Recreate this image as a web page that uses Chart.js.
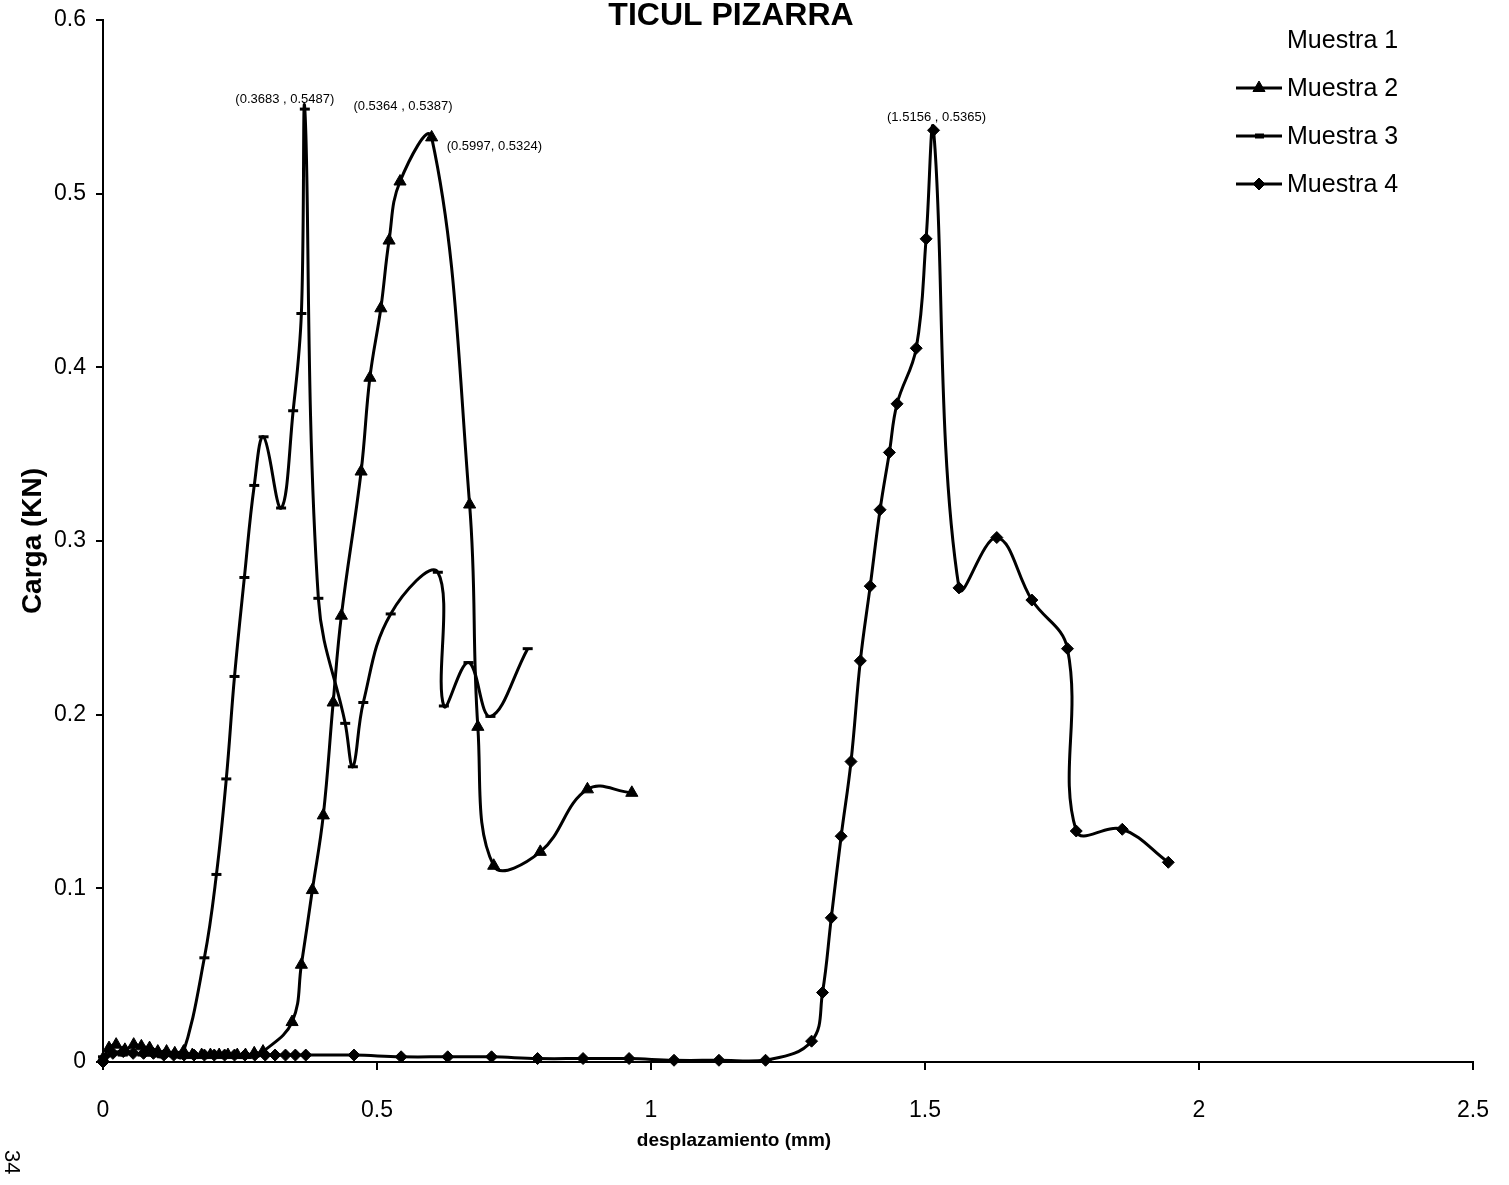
<!DOCTYPE html>
<html><head><meta charset="utf-8">
<script src="https://cdn.jsdelivr.net/npm/chart.js@4/dist/chart.umd.min.js"></script>
<style>html,body{margin:0;padding:0;background:#fff}#wrap{width:1509px;height:1185px;position:relative}canvas{display:block}</style>
</head><body><div id="wrap"><canvas id="c" width="1509" height="1185" style="width:1509px;height:1185px"></canvas></div>
<script>
// ---------- data ----------
const chartTitle = 'TICUL PIZARRA';
const xAxisTitle = 'desplazamiento (mm)';
const yAxisTitle = 'Carga (KN)';
const pageNumber = '34';
const seriesNames = ['Muestra 1', 'Muestra 2', 'Muestra 3', 'Muestra 4'];
const xTicks = [0, 0.5, 1, 1.5, 2, 2.5];
const xTickLabels = ['0', '0.5', '1', '1.5', '2', '2.5'];
const yTicks = [0, 0.1, 0.2, 0.3, 0.4, 0.5, 0.6];
const yTickLabels = ['0', '0.1', '0.2', '0.3', '0.4', '0.5', '0.6'];

const m1X = [];
const m1Y = [];

const m2X = [0, 0.011, 0.024, 0.040, 0.056, 0.070, 0.085, 0.100, 0.116, 0.131, 0.147, 0.163, 0.180, 0.196, 0.212, 0.228, 0.245, 0.260, 0.276, 0.292, 0.345, 0.362, 0.382, 0.402, 0.420, 0.435, 0.471, 0.487, 0.507, 0.522, 0.542, 0.5997, 0.669, 0.684, 0.713, 0.798, 0.884, 0.965];
const m2Y = [0.002, 0.008, 0.010, 0.007, 0.010, 0.009, 0.008, 0.006, 0.006, 0.005, 0.006, 0.004, 0.004, 0.004, 0.004, 0.004, 0.004, 0.004, 0.005, 0.006, 0.023, 0.056, 0.099, 0.142, 0.207, 0.257, 0.340, 0.394, 0.434, 0.473, 0.507, 0.5324, 0.321, 0.193, 0.113, 0.121, 0.157, 0.155];

const m3X = [0, 0.018, 0.036, 0.054, 0.072, 0.090, 0.108, 0.126, 0.144, 0.185, 0.207, 0.225, 0.240, 0.258, 0.276, 0.293, 0.325, 0.347, 0.362, 0.3683, 0.393, 0.442, 0.456, 0.475, 0.525, 0.611, 0.622, 0.667, 0.707, 0.775];
const m3Y = [0.003, 0.005, 0.004, 0.005, 0.004, 0.004, 0.003, 0.004, 0.003, 0.060, 0.108, 0.163, 0.222, 0.279, 0.332, 0.360, 0.319, 0.375, 0.431, 0.5487, 0.267, 0.195, 0.170, 0.207, 0.258, 0.282, 0.205, 0.230, 0.199, 0.238];

const m4X = [0, 0.018, 0.037, 0.055, 0.074, 0.092, 0.111, 0.129, 0.148, 0.166, 0.185, 0.203, 0.222, 0.240, 0.259, 0.277, 0.296, 0.314, 0.333, 0.351, 0.370, 0.458, 0.544, 0.629, 0.709, 0.793, 0.876, 0.960, 1.042, 1.124, 1.209, 1.293, 1.313, 1.329, 1.347, 1.365, 1.382, 1.400, 1.418, 1.435, 1.449, 1.484, 1.502, 1.5156, 1.562, 1.631, 1.695, 1.760, 1.776, 1.860, 1.944];
const m4Y = [0, 0.005, 0.006, 0.005, 0.005, 0.005, 0.004, 0.004, 0.004, 0.004, 0.004, 0.004, 0.004, 0.004, 0.004, 0.004, 0.004, 0.004, 0.004, 0.004, 0.004, 0.004, 0.003, 0.003, 0.003, 0.002, 0.002, 0.002, 0.001, 0.001, 0.001, 0.012, 0.040, 0.083, 0.130, 0.173, 0.231, 0.274, 0.318, 0.351, 0.379, 0.411, 0.474, 0.5365, 0.273, 0.302, 0.266, 0.238, 0.133, 0.134, 0.115];

const peakLabelX = [0.3683, 0.5364, 0.5997, 1.5156];
const peakLabelY = [0.5487, 0.5387, 0.5324, 0.5365];
const peakLabelText = ['(0.3683 , 0.5487)', '(0.5364 , 0.5387)', '(0.5997, 0.5324)', '(1.5156 , 0.5365)'];

// ---------- styling ----------
function hasFont(name) {
  const c = document.createElement('canvas').getContext('2d');
  const t = 'Muestra 1 desplazamiento 0.5364';
  c.font = '40px monospace'; const a = c.measureText(t).width;
  c.font = "40px '" + name + "', monospace"; const b = c.measureText(t).width;
  return Math.abs(a - b) > 0.5;
}
const NARROW = hasFont('Liberation Sans Narrow');
const NFAM = NARROW ? "'Liberation Sans Narrow', 'Liberation Sans', Arial, sans-serif" : "'Liberation Sans', Arial, sans-serif";
const SFAM = "'Liberation Sans', Arial, sans-serif";
const SZ = NARROW ? {tick: 27, legend: 30, title: 36, xTitle: 22, yTitle: 28} : {tick: 23, legend: 25, title: 32, xTitle: 19, yTitle: 28};

const toPts = (xs, ys) => xs.map((x, i) => ({x: x, y: ys[i]}));
const labelOffsets = [[-20, -10, 'center'], [6, -20, 'center'], [15, 9, 'left'], [3, -13, 'center']];

const common = {borderColor: '#000', backgroundColor: '#000', borderWidth: 3, tension: 0.4, clip: 12, pointBorderColor: '#000', pointBackgroundColor: '#000'};
const datasets = [
  Object.assign({}, common, {label: seriesNames[0], data: toPts(m1X, m1Y), showLine: false, pointRadius: 0, borderColor: 'rgba(0,0,0,0)', legendLine: false}),
  Object.assign({}, common, {label: seriesNames[1], data: toPts(m2X, m2Y), pointStyle: 'triangle', pointRadius: 7, pointBorderWidth: 1, legendLine: true}),
  Object.assign({}, common, {label: seriesNames[2], data: toPts(m3X, m3Y), pointStyle: 'line', pointRadius: 5, pointBorderWidth: 3, legendLine: true}),
  Object.assign({}, common, {label: seriesNames[3], data: toPts(m4X, m4Y), pointStyle: 'rectRot', pointRadius: 6, pointBorderWidth: 1, legendLine: true})
];

const decorPlugin = {
  id: 'decor',
  afterDatasetsDraw(chart) {
    const ctx = chart.ctx, xs = chart.scales.x, ys = chart.scales.y;
    ctx.save();
    ctx.fillStyle = '#000';
    ctx.font = '13px ' + SFAM;
    ctx.textBaseline = 'middle';
    peakLabelText.forEach((t, i) => {
      const px = xs.getPixelForValue(peakLabelX[i]), py = ys.getPixelForValue(peakLabelY[i]);
      const o = labelOffsets[i];
      ctx.textAlign = o[2];
      ctx.fillText(t, px + o[0], py + o[1]);
    });
    ctx.restore();
  },
  afterDraw(chart) {
    const ctx = chart.ctx;
    ctx.save();
    ctx.fillStyle = '#000';
    ctx.font = 'bold ' + SZ.title + 'px ' + (NARROW ? NFAM : SFAM);
    ctx.textAlign = 'center'; ctx.textBaseline = 'alphabetic';
    ctx.fillText(chartTitle, 731, 25);
    ctx.font = 'bold ' + SZ.xTitle + 'px ' + NFAM;
    ctx.textBaseline = 'middle';
    ctx.fillText(xAxisTitle, 734, 1141);
    ctx.font = SZ.legend + 'px ' + NFAM;
    ctx.textAlign = 'left'; ctx.textBaseline = 'middle';
    chart.data.datasets.forEach((ds, i) => {
      const cy = 40 + i * 48;
      if (ds.legendLine) {
        ctx.strokeStyle = '#000'; ctx.lineWidth = 3;
        ctx.beginPath(); ctx.moveTo(1236, cy); ctx.lineTo(1282, cy); ctx.stroke();
        if (ds.pointStyle && ds.pointStyle !== 'line') {
          ctx.lineWidth = 1;
          Chart.helpers.drawPoint(ctx, {pointStyle: ds.pointStyle, radius: ds.pointRadius, borderWidth: 1}, 1259, cy);
        } else if (ds.pointStyle === 'line') {
          ctx.lineWidth = 5;
          ctx.beginPath(); ctx.moveTo(1255, cy); ctx.lineTo(1264, cy); ctx.stroke();
        }
      }
      ctx.fillText(ds.label, 1287, cy + 1);
    });
    ctx.font = '22px ' + SFAM;
    ctx.translate(11, 1150); ctx.rotate(Math.PI / 2);
    ctx.textAlign = 'left'; ctx.textBaseline = 'middle';
    ctx.fillText(pageNumber, 0, 0);
    ctx.restore();
  }
};

new Chart(document.getElementById('c'), {
  type: 'line',
  data: {datasets: datasets},
  plugins: [decorPlugin],
  options: {
    responsive: false,
    maintainAspectRatio: false,
    animation: false,
    devicePixelRatio: 1,
    layout: {padding: {left: 0, top: 20, right: 36, bottom: 0}},
    plugins: {legend: {display: false}, tooltip: {enabled: false}, title: {display: false}},
    scales: {
      x: {
        type: 'linear', min: 0, max: 2.5,
        afterBuildTicks(s) { s.ticks = xTicks.map(v => ({value: v})); },
        afterFit(s) { s.height = 123; s.paddingRight = 0; s.paddingLeft = 0; },
        ticks: {color: '#000', padding: 27, font: {family: NFAM, size: SZ.tick}, maxRotation: 0, autoSkip: false,
          callback: (v) => { const i = xTicks.indexOf(v); return i >= 0 ? xTickLabels[i] : ''; }},
        grid: {display: true, drawOnChartArea: false, drawTicks: true, tickLength: 8, color: '#000', lineWidth: 2},
        border: {display: true, color: '#000', width: 2},
        title: {display: false, text: xAxisTitle}
      },
      y: {
        type: 'linear', min: 0, max: 0.6,
        afterBuildTicks(s) { s.ticks = yTicks.map(v => ({value: v})); },
        afterFit(s) { s.width = 103; s.paddingTop = 0; s.paddingBottom = 0; },
        ticks: {color: '#000', padding: 10, font: {family: NFAM, size: SZ.tick}, autoSkip: false,
          callback: (v) => { const i = yTicks.indexOf(v); return i >= 0 ? yTickLabels[i] : ''; }},
        grid: {display: true, drawOnChartArea: false, drawTicks: true, tickLength: 7, color: '#000', lineWidth: 2},
        border: {display: true, color: '#000', width: 2},
        title: {display: true, text: yAxisTitle, color: '#000', font: {family: SFAM, size: SZ.yTitle, weight: 'bold'}, padding: {top: 16, bottom: 0}}
      }
    }
  }
});
</script></body></html>
